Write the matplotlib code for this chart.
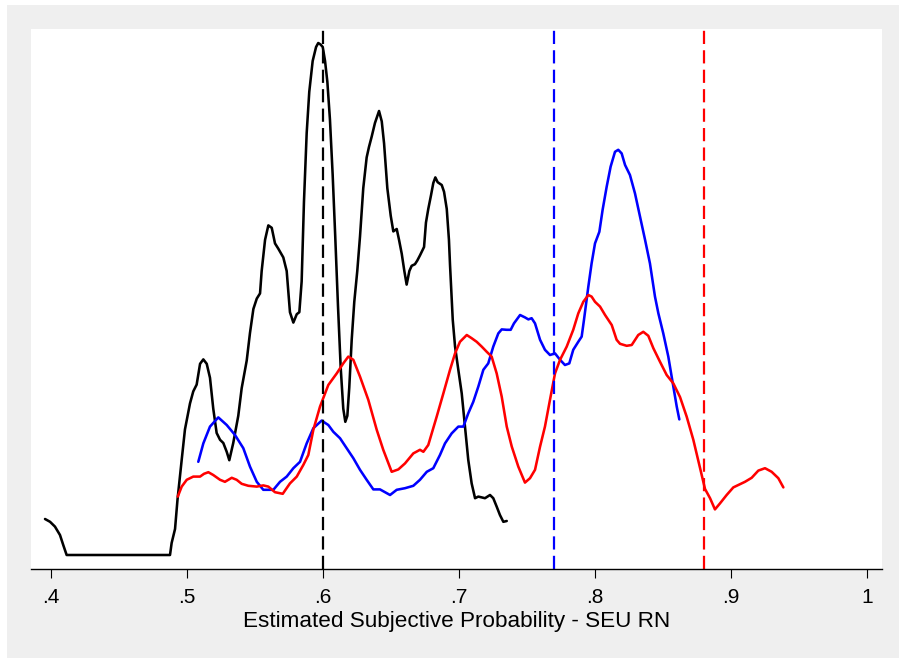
import matplotlib
matplotlib.use("Agg")
import matplotlib.pyplot as plt
from matplotlib.patches import Rectangle

# Kernel density estimates of the estimated subjective probability (SEU RN)
black_x = [0.3956, 0.3993, 0.4029, 0.4066, 0.4090, 0.4115, 0.4875, 0.4887, 0.4912, 0.4930,
           0.4961, 0.4985, 0.5022, 0.5046, 0.5071, 0.5096, 0.5120, 0.5145, 0.5169, 0.5193,
           0.5218, 0.5243, 0.5267, 0.5292, 0.5311, 0.5340, 0.5377, 0.5402, 0.5439, 0.5463,
           0.5488, 0.5513, 0.5537, 0.5549, 0.5574, 0.5598, 0.5623, 0.5647, 0.5671, 0.5708,
           0.5733, 0.5757, 0.5782, 0.5807, 0.5826, 0.5843, 0.5860, 0.5880, 0.5899, 0.5924,
           0.5949, 0.5965, 0.5983, 0.5998, 0.6015, 0.6032, 0.6051, 0.6071, 0.6090, 0.6110,
           0.6130, 0.6149, 0.6164, 0.6179, 0.6193, 0.6211, 0.6230, 0.6252, 0.6272, 0.6296,
           0.6321, 0.6338, 0.6358, 0.6382, 0.6412, 0.6432, 0.6449, 0.6473, 0.6498, 0.6517,
           0.6542, 0.6559, 0.6579, 0.6598, 0.6615, 0.6635, 0.6652, 0.6676, 0.6693, 0.6713,
           0.6743, 0.6757, 0.6774, 0.6794, 0.6811, 0.6826, 0.6843, 0.6873, 0.6890, 0.6910,
           0.6926, 0.6934, 0.6954, 0.6971, 0.6995, 0.7020, 0.7044, 0.7068, 0.7093, 0.7118,
           0.7142, 0.7167, 0.7191, 0.7228, 0.7252, 0.7277, 0.7301, 0.7326, 0.7351]
black_y = [0.90, 0.83, 0.71, 0.50, 0.25, 0.00, 0.00, 0.30, 0.65, 1.38,
           2.38, 3.14, 3.79, 4.09, 4.26, 4.78, 4.89, 4.78, 4.43, 3.66,
           3.05, 2.88, 2.80, 2.58, 2.37, 2.80, 3.48, 4.17, 4.86, 5.55,
           6.15, 6.41, 6.54, 7.10, 7.88, 8.24, 8.18, 7.79, 7.66, 7.44,
           7.10, 6.07, 5.81, 6.02, 6.07, 6.84, 8.83, 10.55, 11.58, 12.35,
           12.70, 12.80, 12.76, 12.70, 12.35, 11.83, 10.89, 9.51, 7.96, 6.24,
           4.69, 3.66, 3.33, 3.48, 4.18, 5.38, 6.33, 7.10, 7.96, 9.17,
           9.94, 10.20, 10.46, 10.80, 11.10, 10.84, 10.29, 9.17, 8.48, 8.09,
           8.15, 7.88, 7.53, 7.10, 6.76, 7.10, 7.23, 7.27, 7.36, 7.49,
           7.70, 8.31, 8.65, 8.99, 9.30, 9.44, 9.32, 9.25, 9.08, 8.65,
           7.88, 7.25, 5.88, 5.21, 4.63, 4.04, 3.21, 2.38, 1.79, 1.42,
           1.46, 1.44, 1.42, 1.50, 1.42, 1.21, 1.00, 0.83, 0.85]

blue_x = [0.5083, 0.5120, 0.5169, 0.5230, 0.5292, 0.5353, 0.5414, 0.5463, 0.5513, 0.5561,
          0.5635, 0.5684, 0.5733, 0.5782, 0.5831, 0.5880, 0.5929, 0.5990, 0.6039, 0.6076,
          0.6125, 0.6174, 0.6223, 0.6272, 0.6321, 0.6370, 0.6419, 0.6493, 0.6542, 0.6603,
          0.6664, 0.6713, 0.6763, 0.6811, 0.6860, 0.6897, 0.6946, 0.6995, 0.7032, 0.7068,
          0.7105, 0.7142, 0.7179, 0.7215, 0.7252, 0.7289, 0.7314, 0.7351, 0.7380, 0.7404,
          0.7449, 0.7485, 0.7510, 0.7534, 0.7559, 0.7596, 0.7632, 0.7669, 0.7706, 0.7743,
          0.7779, 0.7811, 0.7840, 0.7877, 0.7902, 0.7919, 0.7951, 0.7975, 0.8000, 0.8032,
          0.8056, 0.8086, 0.8115, 0.8147, 0.8171, 0.8196, 0.8221, 0.8257, 0.8294, 0.8331,
          0.8368, 0.8404, 0.8441, 0.8466, 0.8502, 0.8539, 0.8576, 0.8601, 0.8620]
blue_y = [2.33, 2.79, 3.21, 3.44, 3.25, 3.00, 2.67, 2.21, 1.83, 1.63,
          1.63, 1.83, 1.96, 2.17, 2.33, 2.79, 3.17, 3.36, 3.25, 3.08,
          2.92, 2.67, 2.42, 2.13, 1.88, 1.64, 1.64, 1.50, 1.63, 1.67,
          1.73, 1.88, 2.08, 2.17, 2.50, 2.79, 3.04, 3.21, 3.21, 3.54,
          3.83, 4.21, 4.63, 4.79, 5.21, 5.54, 5.64, 5.63, 5.63, 5.79,
          6.00, 5.94, 5.89, 5.92, 5.79, 5.38, 5.13, 5.00, 5.04, 4.88,
          4.75, 4.79, 5.13, 5.33, 5.46, 5.88, 6.71, 7.29, 7.79, 8.08,
          8.63, 9.21, 9.71, 10.08, 10.13, 10.04, 9.75, 9.50, 9.04, 8.46,
          7.88, 7.29, 6.46, 6.04, 5.54, 4.96, 4.21, 3.71, 3.39]

red_x = [0.4932, 0.4961, 0.4998, 0.5046, 0.5096, 0.5125, 0.5157, 0.5193, 0.5243, 0.5279,
         0.5329, 0.5365, 0.5402, 0.5451, 0.5513, 0.5561, 0.5598, 0.5647, 0.5704, 0.5757,
         0.5807, 0.5855, 0.5892, 0.5929, 0.5978, 0.6039, 0.6101, 0.6149, 0.6186, 0.6223,
         0.6272, 0.6333, 0.6395, 0.6443, 0.6505, 0.6554, 0.6603, 0.6664, 0.6713, 0.6738,
         0.6774, 0.6836, 0.6885, 0.6934, 0.6971, 0.7007, 0.7057, 0.7093, 0.7130, 0.7167,
         0.7204, 0.7240, 0.7277, 0.7314, 0.7351, 0.7388, 0.7436, 0.7485, 0.7522, 0.7559,
         0.7596, 0.7632, 0.7669, 0.7706, 0.7743, 0.7792, 0.7840, 0.7877, 0.7914, 0.7951,
         0.7975, 0.8000, 0.8037, 0.8074, 0.8123, 0.8159, 0.8184, 0.8233, 0.8270, 0.8318,
         0.8355, 0.8392, 0.8429, 0.8478, 0.8527, 0.8576, 0.8625, 0.8674, 0.8723, 0.8772,
         0.8809, 0.8846, 0.8882, 0.8919, 0.8968, 0.9017, 0.9066, 0.9103, 0.9152, 0.9201,
         0.9250, 0.9299, 0.9348, 0.9385]
red_y = [1.46, 1.71, 1.88, 1.96, 1.96, 2.03, 2.07, 2.00, 1.88, 1.83,
         1.93, 1.88, 1.78, 1.73, 1.71, 1.74, 1.71, 1.57, 1.53, 1.79,
         1.96, 2.25, 2.50, 3.13, 3.71, 4.25, 4.54, 4.79, 4.96, 4.88,
         4.46, 3.88, 3.13, 2.63, 2.08, 2.14, 2.29, 2.54, 2.63, 2.58,
         2.75, 3.46, 4.04, 4.63, 5.04, 5.33, 5.50, 5.42, 5.33, 5.21,
         5.08, 4.96, 4.54, 3.96, 3.21, 2.71, 2.21, 1.81, 1.92, 2.13,
         2.71, 3.21, 3.88, 4.54, 4.88, 5.21, 5.63, 6.04, 6.33, 6.50,
         6.46, 6.33, 6.21, 6.00, 5.75, 5.38, 5.28, 5.23, 5.25, 5.50,
         5.58, 5.48, 5.17, 4.83, 4.50, 4.29, 3.95, 3.46, 2.88, 2.18,
         1.65, 1.42, 1.14, 1.29, 1.50, 1.69, 1.77, 1.83, 1.93, 2.11,
         2.17, 2.08, 1.92, 1.69]

# Group means shown as dashed reference lines
mean_values = [0.60, 0.77, 0.88]
series_colors = ["black", "#0000ff", "#ff0000"]

xtick_values = [0.4, 0.5, 0.6, 0.7, 0.8, 0.9, 1.0]
xtick_labels = [".4", ".5", ".6", ".7", ".8", ".9", "1"]
xlabel_text = "Estimated Subjective Probability - SEU RN"

plt.rcParams["font.family"] = ["Liberation Sans", "DejaVu Sans"]
plt.rcParams["lines.scale_dashes"] = False

W, H = 899, 658
fig = plt.figure(figsize=(W / 100, H / 100), dpi=100, facecolor="white")

# light grey graph region behind the plot area
fig.patches.append(Rectangle((7 / W, 0), 1 - 7 / W, 1 - 5 / H,
                             transform=fig.transFigure, facecolor="#efefef",
                             edgecolor="none", zorder=-10))

left, right, top, bottom = 31, 882, 29, 569
ax = fig.add_axes([left / W, (H - bottom) / H, (right - left) / W, (bottom - top) / H])
ax.set_zorder(1)
ax.set_facecolor("white")

lw = 1.85
ax.plot(black_x, black_y, color=series_colors[0], lw=lw, solid_joinstyle="round",
        solid_capstyle="round")
ax.plot(blue_x, blue_y, color=series_colors[1], lw=lw, solid_joinstyle="round",
        solid_capstyle="round")
ax.plot(red_x, red_y, color=series_colors[2], lw=lw, solid_joinstyle="round",
        solid_capstyle="round")

for m, c in zip(mean_values, series_colors):
    ax.axvline(m, color=c, lw=1.6, linestyle=(0, (9.5, 4.5)))

ax.set_xlim(0.38529, 1.01103)
ax.set_ylim(-0.35, 13.15)

for s in ["left", "right", "top"]:
    ax.spines[s].set_visible(False)
ax.spines["bottom"].set_linewidth(1.0)
ax.set_yticks([])
ax.set_xticks(xtick_values)
ax.set_xticklabels(xtick_labels, fontsize=15)
ax.tick_params(axis="x", length=6.5, width=0.8, pad=7, color="black")

fig.text((left + right) / 2 / W, 1 - 626.5 / H, xlabel_text, ha="center", va="baseline",
         fontsize=16.2)

fig.savefig("out.png", dpi=100, facecolor=fig.get_facecolor())
